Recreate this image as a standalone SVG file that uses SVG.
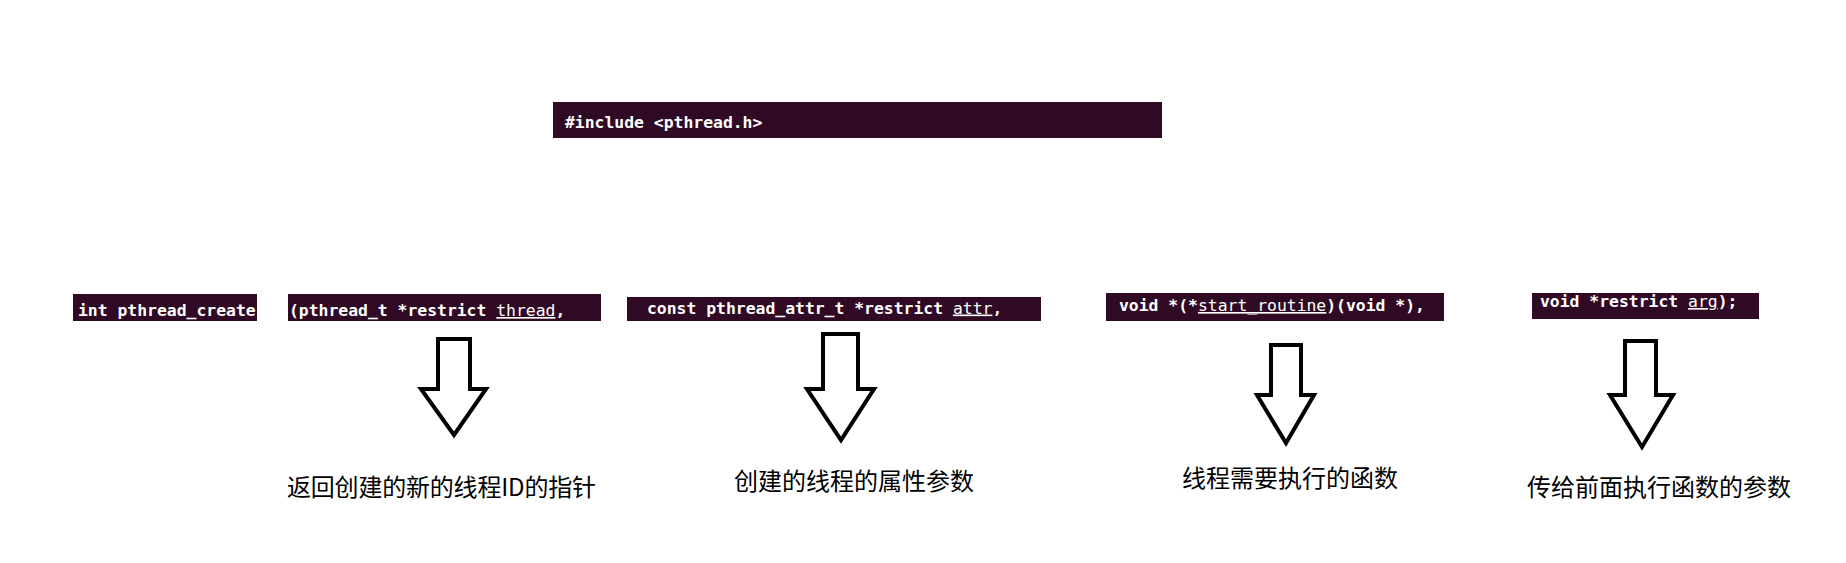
<svg xmlns="http://www.w3.org/2000/svg" width="1846" height="563" viewBox="0 0 1846 563">
<style>
.box{fill:#300a24}
.code{font-family:"DejaVu Sans Mono","Liberation Mono",monospace;font-weight:bold;font-size:16.4px;fill:#ffffff;white-space:pre}
.u{font-weight:normal;text-decoration:underline}
.lbl{font-family:"Noto Sans CJK SC","Noto Sans",sans-serif;font-size:24px;fill:#000000}
.arrow{fill:#ffffff;stroke:#000000;stroke-width:4;stroke-linejoin:miter}
</style>
<rect width="1846" height="563" fill="#ffffff"/>
<g id="include">
<rect class="box" x="553" y="102" width="609" height="36"/>
<text class="code" x="565" y="128">#include &lt;pthread.h&gt;</text>
</g>
<g id="ret-type">
<rect class="box" x="73" y="294" width="184" height="27"/>
<text class="code" x="78" y="316">int pthread_create</text>
</g>
<g id="param-thread">
<rect class="box" x="288" y="294" width="313" height="27"/>
<text class="code" x="289" y="316">(pthread_t *restrict <tspan class="u">thread</tspan>,</text>
</g>
<g id="param-attr">
<rect class="box" x="627" y="297" width="414" height="24"/>
<text class="code" x="647" y="313.5">const pthread_attr_t *restrict <tspan class="u">attr</tspan>,</text>
</g>
<g id="param-routine">
<rect class="box" x="1106" y="293" width="338" height="28"/>
<text class="code" x="1119" y="311">void *(*<tspan class="u">start_routine</tspan>)(void *),</text>
</g>
<g id="param-arg">
<rect class="box" x="1532" y="293" width="227" height="26"/>
<text class="code" x="1540" y="307">void *restrict <tspan class="u">arg</tspan>);</text>
</g>
<g id="connectors">
<polygon class="arrow" points="438,339 470,339 470,389 486,389 454,435 421,389 438,389"/>
<polygon class="arrow" points="823,334 858,334 858,389 874,389 841,440 807,389 823,389"/>
<polygon class="arrow" points="1271,345 1301,345 1301,395 1314,395 1286,443 1257,395 1271,395"/>
<polygon class="arrow" points="1625,341 1656,341 1656,395 1673,395 1642,447 1610,395 1625,395"/>
</g>
<g id="label-thread">
<text class="lbl" x="287" y="496" textLength="309" lengthAdjust="spacing">返回创建的新的线程ID的指针</text>
</g>
<g id="label-attr">
<text class="lbl" x="734" y="490">创建的线程的属性参数</text>
</g>
<g id="label-routine">
<text class="lbl" x="1182" y="487">线程需要执行的函数</text>
</g>
<g id="label-arg">
<text class="lbl" x="1527" y="496">传给前面执行函数的参数</text>
</g>
</svg>
